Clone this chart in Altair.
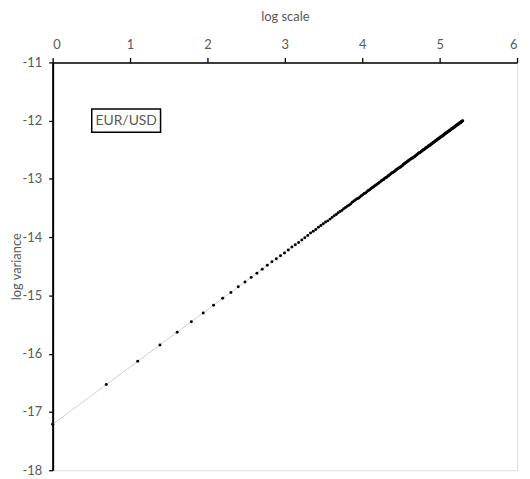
import altair as alt
import pandas as pd

# log scale (x) values
log_scale = [
    0.000, 0.693, 1.099, 1.386, 1.609, 1.792, 1.946, 2.079, 2.197, 2.303,
    2.398, 2.485, 2.565, 2.639, 2.708, 2.773, 2.833, 2.890, 2.944, 2.996,
    3.045, 3.091, 3.135, 3.178, 3.219, 3.258, 3.296, 3.332, 3.367, 3.401,
    3.434, 3.466, 3.497, 3.526, 3.555, 3.584, 3.611, 3.638, 3.664, 3.689,
    3.714, 3.738, 3.761, 3.784, 3.807, 3.829, 3.850, 3.871, 3.892, 3.912,
    3.932, 3.951, 3.970, 3.989, 4.007, 4.025, 4.043, 4.060, 4.078, 4.094,
    4.111, 4.127, 4.143, 4.159, 4.174, 4.190, 4.205, 4.220, 4.234, 4.248,
    4.263, 4.277, 4.290, 4.304, 4.317, 4.331, 4.344, 4.357, 4.369, 4.382,
    4.394, 4.407, 4.419, 4.431, 4.443, 4.454, 4.466, 4.477, 4.489, 4.500,
    4.511, 4.522, 4.533, 4.543, 4.554, 4.564, 4.575, 4.585, 4.595, 4.605,
    4.615, 4.625, 4.635, 4.644, 4.654, 4.663, 4.673, 4.682, 4.691, 4.700,
    4.710, 4.718, 4.727, 4.736, 4.745, 4.754, 4.762, 4.771, 4.779, 4.787,
    4.796, 4.804, 4.812, 4.820, 4.828, 4.836, 4.844, 4.852, 4.860, 4.868,
    4.875, 4.883, 4.890, 4.898, 4.905, 4.913, 4.920, 4.927, 4.934, 4.942,
    4.949, 4.956, 4.963, 4.970, 4.977, 4.984, 4.990, 4.997, 5.004, 5.011,
    5.017, 5.024, 5.030, 5.037, 5.043, 5.050, 5.056, 5.063, 5.069, 5.075,
    5.081, 5.088, 5.094, 5.100, 5.106, 5.112, 5.118, 5.124, 5.130, 5.136,
    5.142, 5.148, 5.153, 5.159, 5.165, 5.170, 5.176, 5.182, 5.187, 5.193,
    5.199, 5.204, 5.209, 5.215, 5.220, 5.226, 5.231, 5.236, 5.242, 5.247,
    5.252, 5.258, 5.263, 5.268, 5.273, 5.278, 5.283, 5.288, 5.293, 5.298,
]

# log variance (y) values
log_variance = [
    -17.21, -16.53, -16.13, -15.85, -15.63, -15.45, -15.30, -15.17, -15.05, -14.95,
    -14.85, -14.77, -14.69, -14.62, -14.55, -14.48, -14.42, -14.37, -14.32, -14.27,
    -14.22, -14.17, -14.13, -14.09, -14.05, -14.01, -13.97, -13.93, -13.90, -13.87,
    -13.83, -13.80, -13.77, -13.74, -13.72, -13.69, -13.66, -13.63, -13.61, -13.58,
    -13.56, -13.54, -13.51, -13.49, -13.47, -13.45, -13.43, -13.40, -13.38, -13.36,
    -13.34, -13.33, -13.31, -13.29, -13.27, -13.25, -13.24, -13.22, -13.20, -13.19,
    -13.17, -13.15, -13.14, -13.12, -13.11, -13.09, -13.08, -13.06, -13.05, -13.03,
    -13.02, -13.01, -12.99, -12.98, -12.97, -12.95, -12.94, -12.93, -12.91, -12.90,
    -12.89, -12.88, -12.87, -12.85, -12.84, -12.83, -12.82, -12.81, -12.80, -12.79,
    -12.78, -12.77, -12.75, -12.74, -12.73, -12.72, -12.71, -12.70, -12.69, -12.68,
    -12.67, -12.66, -12.65, -12.64, -12.64, -12.63, -12.62, -12.61, -12.60, -12.59,
    -12.58, -12.57, -12.56, -12.55, -12.55, -12.54, -12.53, -12.52, -12.51, -12.50,
    -12.50, -12.49, -12.48, -12.47, -12.46, -12.46, -12.45, -12.44, -12.43, -12.43,
    -12.42, -12.41, -12.40, -12.40, -12.39, -12.38, -12.37, -12.37, -12.36, -12.35,
    -12.35, -12.34, -12.33, -12.32, -12.32, -12.31, -12.30, -12.30, -12.29, -12.28,
    -12.28, -12.27, -12.27, -12.26, -12.25, -12.25, -12.24, -12.23, -12.23, -12.22,
    -12.21, -12.21, -12.20, -12.20, -12.19, -12.18, -12.18, -12.17, -12.17, -12.16,
    -12.16, -12.15, -12.14, -12.14, -12.13, -12.13, -12.12, -12.12, -12.11, -12.11,
    -12.10, -12.09, -12.09, -12.08, -12.08, -12.07, -12.07, -12.06, -12.06, -12.05,
    -12.05, -12.04, -12.04, -12.03, -12.03, -12.02, -12.02, -12.01, -12.01, -12.00,
]

x_ticks = [0, 1, 2, 3, 4, 5, 6]
y_ticks = [-18, -17, -16, -15, -14, -13, -12, -11]

label_text = ["EUR/USD"]
label_x = [0.95]
label_y = [-12.0]
label_box_x = [0.505, 1.394]
label_box_y = [-11.80, -12.20]

FONT = "Lato"
GREY = "#595959"
W, H = 468, 411

df = pd.DataFrame({"x": log_scale, "y": log_variance})

xscale = alt.Scale(domain=[0, 6], nice=False, zero=False)
yscale = alt.Scale(domain=[-18, -11], nice=False, zero=False)

xaxis = alt.Axis(
    orient="top", values=x_ticks, title="log scale", grid=False,
    labelExpr="'' + datum.value",
    tickSize=5, tickColor="black", tickWidth=1.3,
    domainColor="black", domainWidth=1.5,
    labelFont=FONT, labelFontSize=13, labelColor=GREY, labelPadding=6,
    titleFont=FONT, titleFontSize=13, titleColor=GREY, titleFontWeight="normal",
    titleY=-46, titleBaseline="middle",
)
yaxis = alt.Axis(
    orient="left", values=y_ticks, title="log variance", grid=False,
    labelExpr="'' + datum.value",
    tickSize=4, tickColor="black", tickWidth=1.3,
    domainColor="black", domainWidth=2,
    labelFont=FONT, labelFontSize=13, labelColor=GREY, labelPadding=7,
    titleFont=FONT, titleFontSize=13, titleColor=GREY, titleFontWeight="normal",
    titleX=-36, titleY=H / 2, titleAngle=270, titleAlign="center", titleBaseline="middle",
)

base = alt.Chart(df)

trend = base.transform_regression("x", "y").mark_line(
    color="#cfcfcf", strokeWidth=1
).encode(
    x=alt.X("x:Q", scale=xscale, axis=xaxis),
    y=alt.Y("y:Q", scale=yscale, axis=yaxis),
)

points = base.mark_circle(size=9, color="black", opacity=1).encode(
    x=alt.X("x:Q", scale=xscale),
    y=alt.Y("y:Q", scale=yscale),
)

box_df = pd.DataFrame({
    "x1": [label_box_x[0]], "x2": [label_box_x[1]],
    "y1": [label_box_y[0]], "y2": [label_box_y[1]],
})
box = alt.Chart(box_df).mark_rect(
    fill="white", stroke="black", strokeWidth=1.5
).encode(
    x=alt.X("x1:Q", scale=xscale), x2="x2:Q",
    y=alt.Y("y1:Q", scale=yscale), y2="y2:Q",
)

text_df = pd.DataFrame({"t": label_text, "x": label_x, "y": label_y})
text = alt.Chart(text_df).mark_text(
    font=FONT, fontSize=14, color=GREY, align="center", baseline="middle"
).encode(
    x=alt.X("x:Q", scale=xscale),
    y=alt.Y("y:Q", scale=yscale),
    text="t:N",
)

chart = alt.layer(trend, points, box, text).properties(
    width=W, height=H,
    autosize=alt.AutoSizeParams(type="none"),
    padding={"left": 45, "top": 53, "right": 5, "bottom": 5},
).configure_view(stroke="black", strokeWidth=2).configure(background="white")

chart.save("out.html", embed_options={"renderer": "svg", "actions": False})
